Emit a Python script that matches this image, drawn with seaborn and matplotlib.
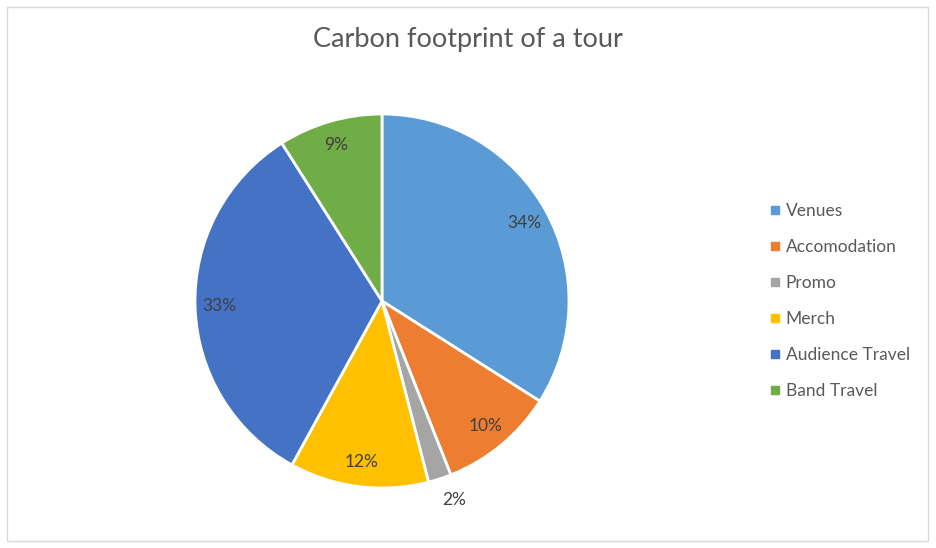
import matplotlib
matplotlib.use("Agg")
import matplotlib.pyplot as plt
import seaborn as sns
import numpy as np
from matplotlib.lines import Line2D
from matplotlib.patches import Rectangle

# data
categories = ["Venues", "Accomodation", "Promo", "Merch", "Audience Travel", "Band Travel"]
shares = [34, 10, 2, 12, 33, 9]
colors = ["#5B9BD5", "#ED7D31", "#A5A5A5", "#FFC000", "#4472C4", "#70AD47"]

sns.set_theme(style="white")
plt.rcParams["font.family"] = ["Lato", "DejaVu Sans"]

W, H = 936, 548
fig = plt.figure(figsize=(W / 100, H / 100), dpi=100)
fig.patch.set_facecolor("white")

# light chart border
fig.add_artist(Rectangle((7 / W, 7 / H), 921 / W, 534 / H, transform=fig.transFigure,
                         fill=False, edgecolor="#D9D9D9", linewidth=1))

# pie centred at (382, 301) px, radius 187 px
cx, cy, r = 382, 301, 187
ax = fig.add_axes([(cx - r) / W, (H - cy - r) / H, 2 * r / W, 2 * r / H])
wedges, texts, autotexts = ax.pie(
    shares, colors=colors, startangle=90, counterclock=False, radius=1,
    autopct="%d%%", pctdistance=0.87,
    wedgeprops=dict(edgecolor="white", linewidth=2),
    textprops=dict(color="#404040", fontsize=12.5),
)
ax.set_xlim(-1, 1)
ax.set_ylim(-1, 1)
ax.set_aspect("auto")
ax.axis("off")

# small slice label sits outside the pie
for w, t, v in zip(wedges, autotexts, shares):
    if v < 5:
        ang = np.deg2rad((w.theta1 + w.theta2) / 2 + 2)
        t.set_position((1.13 * np.cos(ang), 1.13 * np.sin(ang)))

fig.text(468 / W, 1 - 40 / H, "Carbon footprint of a tour", ha="center", va="center",
         fontsize=19.5, color="#595959")

handles = [Line2D([0], [0], marker="s", linestyle="", markersize=6,
                  markerfacecolor=c, markeredgecolor=c) for c in colors]
fig.legend(handles, categories, loc="center left", bbox_to_anchor=(763 / W, 1 - 301 / H),
           frameon=False, fontsize=12.5, labelcolor="#595959", handlelength=0.55,
           handletextpad=0.35, labelspacing=1.15, borderaxespad=0)

fig.savefig("out.png", dpi=100)
